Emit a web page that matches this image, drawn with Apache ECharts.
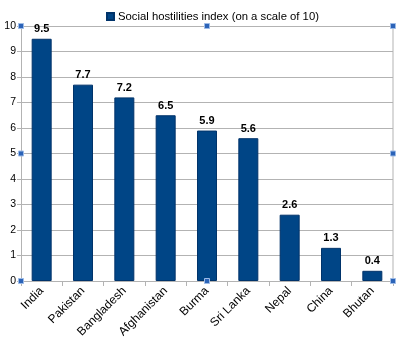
<!DOCTYPE html>
<html><head><meta charset="utf-8">
<script src="https://cdn.jsdelivr.net/npm/echarts@6/dist/echarts.min.js"></script>
<style>html,body{margin:0;padding:0;background:#fff}#c{width:400px;height:344px}</style>
</head><body><div id="c"></div>
<script>
const categories = ["India","Pakistan","Bangladesh","Afghanistan","Burma","Sri Lanka","Nepal","China","Bhutan"];
const values = [9.5,7.7,7.2,6.5,5.9,5.6,2.6,1.3,0.4];
const seriesName = "Social hostilities index (on a scale of 10)";
const chart = echarts.init(document.getElementById('c'));
const gl = 21, gr = 7, gt = 26, gb = 63, W = 400, H = 344;
const x0 = gl, x1 = W - gr, y0 = gt, y1 = H - gb, xm = (x0 + x1) / 2, ym = (y0 + y1) / 2;
const handlePts = [[x0,y0],[xm,y0],[x1,y0],[x0,ym],[x1,ym],[x0,y1],[xm,y1],[x1,y1]];
const handles = handlePts.map(p => ({type:'rect',z:100,shape:{x:p[0]-2.5,y:p[1]-2.5,width:5,height:5},
  style:{fill:'#2b63b8',stroke:'#9dbbe6',lineWidth:1}}));
chart.setOption({
  animation:false,
  textStyle:{fontFamily:'Liberation Sans'},
  legend:{top:6,left:101,itemWidth:7,itemHeight:7,icon:'rect',itemGap:4,
    textStyle:{fontSize:11.3,color:'#000',fontFamily:'Liberation Sans',padding:[0,0,0,-1]},data:[seriesName]},
  grid:{left:gl,right:gr,top:gt,bottom:gb,containLabel:false},
  xAxis:{type:'category',data:categories,
    axisLine:{lineStyle:{color:'#b3b3b3'}},
    axisTick:{show:true,alignWithLabel:false,length:5,lineStyle:{color:'#b3b3b3'}},
    axisLabel:{rotate:45,interval:0,fontSize:12,color:'#000',margin:8,fontFamily:'Liberation Sans'}},
  yAxis:{type:'value',min:0,max:10,interval:1,
    axisLine:{show:true,lineStyle:{color:'#b3b3b3'}},
    axisTick:{show:true,length:4,lineStyle:{color:'#b3b3b3'}},
    splitLine:{lineStyle:{color:'#b3b3b3'}},
    axisLabel:{fontSize:10.5,color:'#000',margin:5,fontFamily:'Liberation Sans'}},
  series:[{name:seriesName,type:'bar',data:values,barWidth:20,
    itemStyle:{color:'#004586',borderColor:'#00336a',borderWidth:1},
    label:{show:true,position:'top',fontSize:11,fontWeight:'bold',color:'#000',distance:4,fontFamily:'Liberation Sans'}}],
  graphic:[{type:'line',shape:{x1:x1,y1:y0,x2:x1,y2:y1},style:{stroke:'#b3b3b3',lineWidth:1}}].concat(handles)
});
</script></body></html>
